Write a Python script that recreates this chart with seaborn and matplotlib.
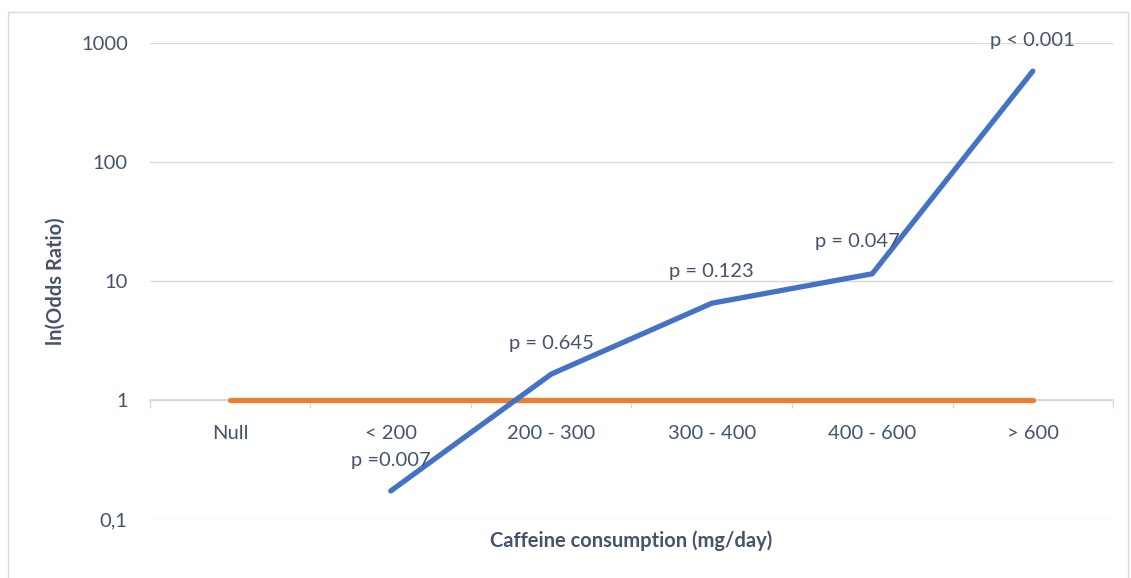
import pandas as pd
import numpy as np
import seaborn as sns
import matplotlib.pyplot as plt
from matplotlib.patches import Rectangle

# data
categories = ["Null", "< 200", "200 - 300", "300 - 400", "400 - 600", "> 600"]
odds_ratio = [np.nan, 0.172, 1.65, 6.5, 11.5, 580]
null_line = [1, 1, 1, 1, 1, 1]
p_labels = ["", "p =0.007", "p = 0.645", "p = 0.123", "p = 0.047", "p < 0.001"]
y_ticks = [0.1, 1, 10, 100, 1000]
y_tick_labels = ["0,1", "1", "10", "100", "1000"]

sns.set_theme(style="white")
plt.rcParams["font.family"] = ["Lato", "DejaVu Sans"]
txt = "#44546A"
fs = 14.5

df = pd.DataFrame({"cat": categories, "or": odds_ratio, "null": null_line})
df["x"] = range(len(df))

fig = plt.figure(figsize=(11.31, 5.78), dpi=100)
ax = fig.add_axes([0.1326, 0.1021, 0.8515, 0.8235])
fig.patches.append(Rectangle((0.007, -0.01), 0.99, 0.99, transform=fig.transFigure,
                             fill=False, edgecolor="#D9D9D9", lw=1))

sns.lineplot(data=df, x="x", y="null", color="#ED7D31", lw=3.8, ax=ax,
             solid_capstyle="round")
sns.lineplot(data=df.dropna(), x="x", y="or", color="#4472C4", lw=3.8, ax=ax,
             solid_capstyle="round")

ax.set_yscale("log")
ax.set_ylim(0.1, 1000)
ax.set_xlim(-0.5, len(categories) - 0.5)
ax.set_yticks(y_ticks)
ax.set_yticklabels(y_tick_labels)
ax.yaxis.set_minor_locator(plt.NullLocator())
ax.grid(axis="y", color="#D9D9D9", lw=1)
ax.set_axisbelow(True)

ax.set_xticks(df["x"])
ax.set_xticklabels(categories)
ax.set_xticks(np.arange(-0.5, len(categories)), minor=True)
ax.tick_params(axis="x", which="major", bottom=True, length=0, pad=18,
               labelsize=fs, labelcolor=txt)
ax.tick_params(axis="x", which="minor", bottom=True, length=6, color="#D9D9D9", width=1)
ax.tick_params(axis="y", length=0, pad=16, labelsize=fs, labelcolor=txt)

for s in ["top", "right", "left"]:
    ax.spines[s].set_visible(False)
ax.spines["bottom"].set_position(("data", 1))
ax.spines["bottom"].set_color("#D9D9D9")
ax.spines["bottom"].set_zorder(0)

ax.set_xlabel("")
ax.set_ylabel("ln(Odds Ratio)", fontsize=fs, fontweight="bold", color=txt, labelpad=11)
ax.text(0.5, -0.045, "Caffeine consumption (mg/day)", transform=ax.transAxes,
        ha="center", va="center", fontsize=fs, fontweight="bold", color=txt)

offsets = [(0, 0), (0, 22), (0, 22), (0, 23), (-11, 23), (0, 22)]
for i, lab in enumerate(p_labels):
    if lab:
        ax.annotate(lab, (i, odds_ratio[i]), xytext=offsets[i], textcoords="offset points",
                    ha="center", va="center", fontsize=fs, color=txt)

fig.savefig("out.png", dpi=100)
